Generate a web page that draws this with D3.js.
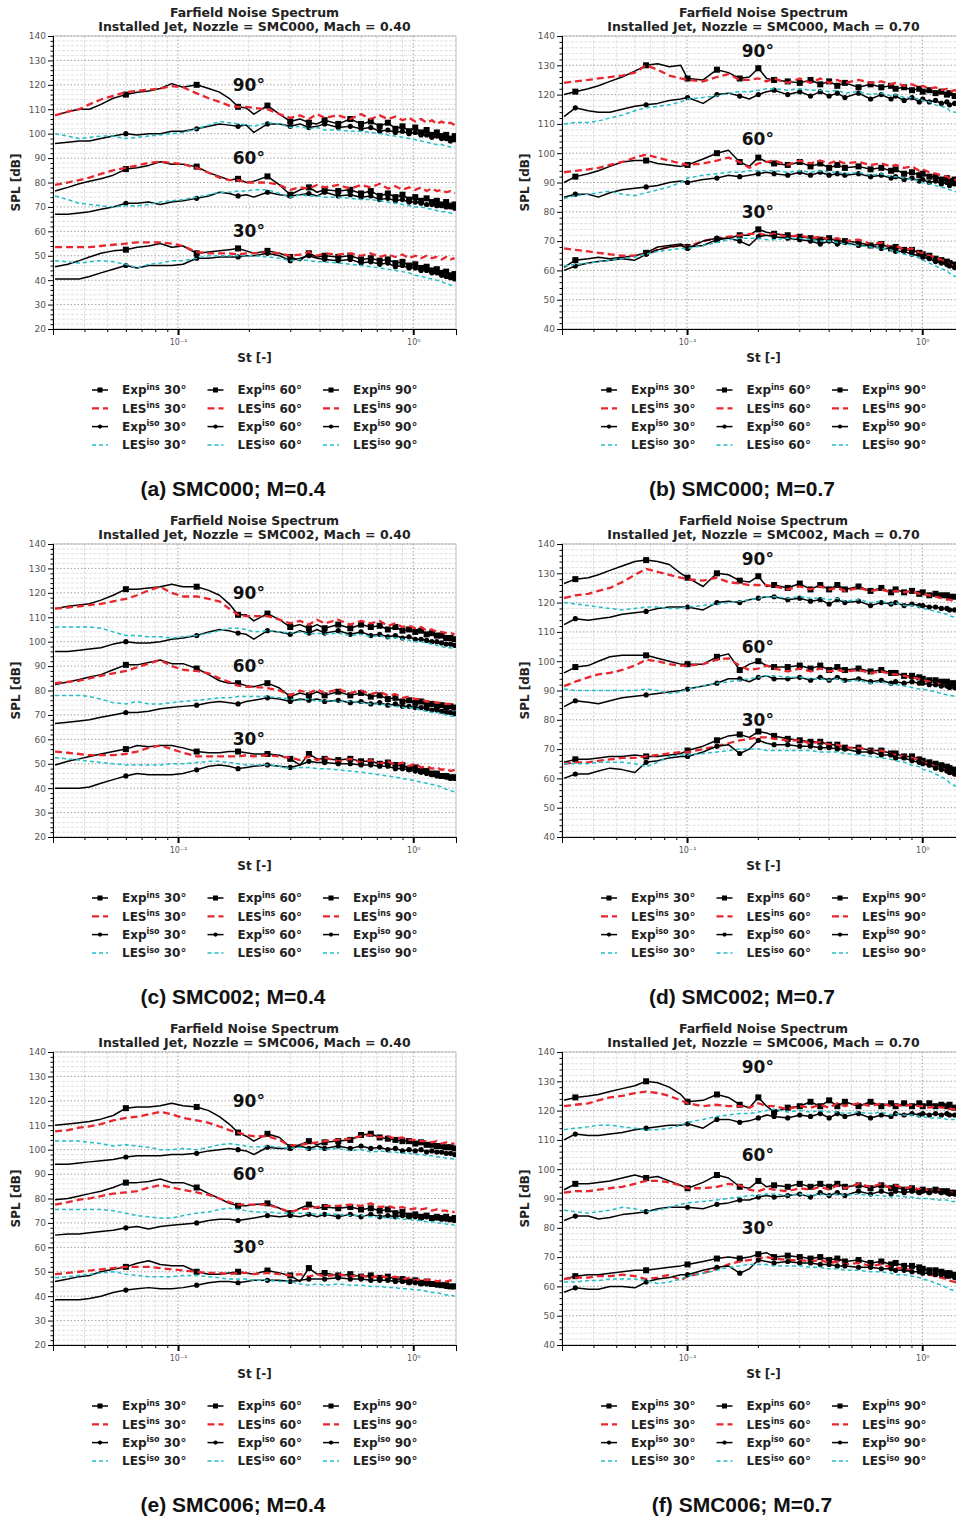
<!DOCTYPE html>
<html>
<head>
<meta charset="utf-8">
<script src="https://cdn.jsdelivr.net/npm/d3@7"></script>
<style>
  body { margin: 0; background: #fff; }
</style>
</head>
<body>
<svg id="fig" width="956" height="1519" font-family="DejaVu Sans, sans-serif"></svg>
<script>
// Strouhal grids: exp markers sit every 0.06 (M=0.4) and every 0.0335 (M=0.7)
const st04 = [0.03,0.034,0.038,0.042,0.047,0.053,0.06,0.067,0.075,0.084,0.094,0.105,0.12,0.135,0.15,0.165,0.18,0.195,0.21,0.24,0.27,0.3,0.33,0.36,0.39,0.42,0.48,0.54,0.6,0.66,0.72,0.78,0.84,0.9,0.96,1.02,1.08,1.14,1.2,1.26,1.32,1.38,1.44,1.5];
const st07 = [0.03,0.0335,0.038,0.042,0.047,0.053,0.06,0.067,0.075,0.084,0.094,0.1005,0.117,0.134,0.15,0.1675,0.184,0.201,0.218,0.2345,0.268,0.3015,0.335,0.3685,0.402,0.4355,0.469,0.536,0.603,0.67,0.737,0.7705,0.8375,0.9045,0.9715,1.005,1.072,1.139,1.206,1.273,1.3065,1.3735,1.4405,1.5075];

const angles = [30, 60, 90];
const xMajor = [0.1, 1];
const xMajorLabels = ['10\u207B\u00B9', '10\u2070'];
const xMinor = [0.04, 0.05, 0.06, 0.07, 0.08, 0.09, 0.2, 0.3, 0.4, 0.5, 0.6, 0.7, 0.8, 0.9];

// (a) SMC000, M=0.4
const aExpIns30 = [45.5,46.5,48,49.5,51,52,52.5,53.5,54,55,53.5,54,51,51.5,52,52.5,53,52,51,52,51,49.5,48,51,49.5,50,49.5,50,48.5,49,48,48.5,47,47.5,46,46.5,45,45.5,44,44.5,43,43.5,42,42.5];
const aLesIns30 = [53.5,53.5,53.5,53.5,54,54.5,55,55.5,55.5,55.5,55,54,51.5,51,51,51,50.5,51,51,51.5,51,50,50.5,51.5,50,51,50.5,51,50,51,49.5,50.5,49.5,50.5,49,50,49,50,49,49.5,48.5,49.5,48.5,49];
const aExpIso30 = [40.5,40.5,40.5,41.5,43,44.5,46,45,46,46,46,46.5,49,49,49.5,49.5,49.5,50,50,51,50,48,49,50,49,48.5,48,48.5,47,47.5,46.5,47,45.5,46,45,45,44,44,43,43,42,41.5,41,40.5];
const aLesIso30 = [48,47.5,47,47.5,48,47.5,46.5,45,46.5,47,48,48,49,50,50,50,50,50,50,49.5,49,48,48.5,48,47.5,47.5,47,46.5,46,45.5,45,44.5,44,43.5,43,42,41.5,41,40.5,40,39.5,38.5,38,37.5];
const aExpIns60 = [76.5,78,79.5,80.5,81.5,83,85.5,86,87,88.5,87.5,87.5,86.5,84,82.5,81,81.5,80,80.5,82.5,79,75,77,78,76,77,76.5,77,75.5,76.5,74.5,75.5,74,75,73,74,72.5,73.5,72,72.5,71,72,70.5,71];
const aLesIns60 = [79,80,81,82,83.5,85,86,87,88,88.5,88,87.5,86,84,82,81,81,80,80,80,79,77,78,77.5,79,78,79,77.5,79,78,79.5,77.5,78.5,77,78,77,78,76.5,77.5,76.5,77,76,76.5,75.5];
const aExpIso60 = [67,67,67.5,68,69,70,71.5,71.5,72,71,72,72.5,73.5,74.5,76,75.5,74.5,75,74,76,75,74.5,75,75.5,74.5,76,74.5,75,74,74.5,73,73.5,72.5,73,72,72,71.5,71,71,70.5,70.5,70,70,69.5];
const aLesIso60 = [74.5,73,71.5,71,70.5,70,70.5,70.5,71,72,72.5,73,74,75,76,76,76.5,76.5,77,77,75.5,74,75,74.5,74.5,74,74,73.5,73,73,72.5,72,71.5,71,70.5,70,70,69.5,69,68.5,68,68,67.5,67];
const aExpIns90 = [107.5,109,110,110,112,114.5,116,117,117.5,118.5,120.5,119,120,118.5,117,114.5,111,110.5,108,111.5,108,105,106,104.5,104,105.5,104,106,104,105,103,104.5,102,103,101,102.5,100.5,101.5,99.5,100.5,99,99.5,98,99];
const aLesIns90 = [107.5,109,110,112,114,115.5,117,117.5,118,118.5,119.5,119,116.5,114.5,113,111.5,111,111,110.5,110,108,106.5,107.5,106,108,106.5,107.5,106,108,106,107.5,106,107,105.5,106.5,105,106,104.5,105.5,104,105,104,104.5,103.5];
const aExpIso90 = [96,96.5,97,97,98,99,100,99.5,100,100,101,101,102,103,104,103.5,103,103.5,100.5,104,104,103,104,102.5,103,104,102.5,103,102,102.5,101,101.5,100.5,101,100,100.5,99.5,99.5,98.5,99,98,98,97,97.5];
const aLesIso90 = [100,99,98,98.5,99,99,98,98.5,99,99.5,100,100.5,102,103.5,105,104.5,104,103.5,103,104.5,104,102.5,103,102,102.5,101.5,101.5,101,101,100.5,100,99.5,99,98.5,98,97.5,97,96.5,96,95.5,95.5,95,94.5,94.5];

// (b) SMC000, M=0.7
const bExpIns30 = [61,63.5,64,64.5,64,64.5,65,66,68,68.5,69,68,68.5,70.5,71,72,72,74,73,72.5,72,71.5,71,70.5,71,70,70,69.5,68.5,69,67.5,68,67,67,66,65.5,65,64,63.5,63,62.5,62,61.5,61];
const bLesIns30 = [67.5,67,66.5,66,65.5,65,65,65.5,67,68,68.5,68,70,71,71.5,72,72.5,72.5,72,72.5,71.5,72,71,71.5,70.5,71,70,70.5,69,69.5,68,68.5,67,67.5,66,66,65,64.5,63.5,63,62,61.5,60.5,60];
const bExpIso30 = [60,61.5,62.5,63,63.5,64,63.5,65.5,67,68,68.5,67.5,70,71,71,70,68.5,71.5,72,71.5,71,70.5,70,69,70,69,69.5,68.5,68.5,67.5,67.5,66.5,66.5,65.5,65,64.5,64,63,62.5,62,61.5,61,60.5,60];
const bLesIso30 = [61.5,62,62.5,63,63.5,64,64.5,65.5,66.5,67,67.5,67.5,68.5,69.5,70.5,71,71,71,70.5,70.5,71,71,70.5,70,70,69.5,69,68.5,68,67.5,67,66.5,65.5,65,64.5,63.5,62.5,61.5,60.5,60,59,58,57.5,57];
const bExpIns60 = [90,92,93,94,95.5,97,97.5,97.5,96.5,96,95.5,96,98,100,101,97,95.5,98.5,97,96.5,96,97,95.5,96.5,95,96,95,95.5,94.5,95,94,94.5,93,93.5,92.5,93,92,92,91,91.5,90.5,91,90,90];
const bLesIns60 = [93.5,94,94.5,95,96,97,98.5,99.5,98.5,97.5,96.5,96,96.5,97.5,98.5,97,95,96.5,97,97.5,96,97.5,96.5,97.5,96.5,97.5,96.5,97,96,96.5,95.5,96,95,95.5,94,94.5,93.5,93,92.5,92,91.5,91,90.5,90];
const bExpIso60 = [85,86,86,85,86.5,87.5,88,88.5,89,90,90.5,90,91,91.5,92.5,92,92.5,93,93.5,93,92.5,93.5,92.5,93.5,92.5,93,92.5,93,92,92.5,91.5,92,91,91.5,90.5,91,90,90.5,89.5,90,89,89.5,88.5,89];
const bLesIso60 = [84.5,85.5,86,86.5,87,86,85.5,86.5,87.5,88.5,90,91.5,92.5,93,93.5,93.5,94,94,94,94,93.5,94,93.5,94,93.5,93.5,93,93.5,92.5,93,92,92,91.5,91,90.5,90,89.5,89,88.5,88,87.5,87,86.5,86];
const bExpIns90 = [120,121,122,123,124.5,126,128,130,130.5,129.5,130,125.5,125,128.5,127.5,125.5,126,129,125.5,125,124.5,124,125,123.5,124.5,123,124,122.5,123.5,122.5,123,122,122.5,121.5,122,121,121.5,120.5,121,120,120.5,119.5,120,119];
const bLesIns90 = [124,124.5,125,125.5,126,126.5,127.5,130,128.5,126.5,125.5,125,124.5,126,127,125,125,125.5,124.5,125.5,124,125.5,124,125.5,124,125,124,125,124,124.5,123.5,124,123,123.5,122.5,123,122,122.5,121.5,122,121,121.5,120.5,121];
const bExpIso90 = [112.5,115.5,114.5,114,114,115,116,116.5,117,118,118.5,119,117,120,120.5,119.5,118.5,120,121,121.5,120,121,119.5,121,119.5,120.5,119,120.5,118.5,120,118.5,119.5,118,119,117.5,118.5,117.5,118,117,117.5,116.5,117,116,116.5];
const bLesIso90 = [110,110.5,110.5,111,112,113,114.5,115.5,116,116.5,117.5,118.5,119,119.5,120.5,121,121,121.5,122,122,121.5,122,121.5,121.5,121,121.5,120.5,121,120,120.5,119.5,120,119,119,118.5,118,117.5,116.5,116,115.5,114.5,114,113.5,113];

// (c) SMC002, M=0.4
const cExpIns30 = [49.5,51,52,53,54,55,56,57.5,57,57.5,57.5,56.5,55,54.5,54.5,55,55,54.5,54,54,53.5,52,49.5,54,52,52,51.5,52,51,51,50,50.5,49.5,49.5,48,48.5,47,47,46,46,45,45,44.5,44.5];
const cLesIns30 = [55,54.5,54,53.5,53.5,53.5,54,55,56.5,57.5,56,54.5,53,53,53,53,53,53.5,53,53.5,53,52.5,51.5,53,51.5,52.5,51,52,50.5,51.5,50,51,49.5,50.5,49,50,48.5,49,48,48.5,47.5,48,47,47.5];
const cExpIso30 = [40,40,40,40.5,42,43.5,45,46,45.5,45.5,45.5,46,47.5,49,49.5,49,48,48.5,49,49.5,49,48.5,49.5,51,50.5,50.5,50,50,49.5,49.5,49,49,48,48,47.5,47,46.5,46,45.5,45,45,44.5,44,44];
const cLesIso30 = [52.5,52,51.5,51,50.5,50,49.5,49.5,49.5,49.5,50,50,50.5,51,51,50.5,50,49.5,49.5,49.5,49,48,48.5,48.5,48,48,47.5,47,46.5,46,45.5,45,44.5,44,43.5,43,42.5,42,41.5,41,40.5,39.5,39,38.5];
const cExpIns60 = [82.5,83.5,84.5,85.5,86.5,88.5,90.5,90.5,91.5,92.5,91,91,89,86.5,84,83,83,82,81.5,83,81,77.5,79,78,79.5,78,79.5,78,79,77.5,78,76.5,77,75.5,76,75,75.5,74,74.5,73.5,74,73,73.5,73];
const cLesIns60 = [83,83.5,84,85,86,87,88,89.5,91,92.5,90,88.5,88,87,85,83.5,82,81.5,81.5,81,80,78,80,79,80.5,79,80.5,79,80,78.5,79.5,78,78.5,77,77.5,76.5,76.5,75.5,75.5,75,75,74.5,74.5,74];
const cExpIso60 = [66.5,67,67.5,68,69,70,71,71,71.5,72.5,73,73.5,74,75,75.5,75,74.5,75.5,76,77,76.5,75.5,76.5,76,76.5,75.5,76,75,75.5,74.5,75,74,74.5,73.5,73.5,73,73,72.5,72,72,71.5,71,71,70.5];
const cLesIso60 = [78,78,78,77.5,76.5,75,74.5,75.5,74.5,74.5,75,75.5,76,76.5,77,77,77.5,77.5,77.5,77.5,77,76.5,76,76.5,75.5,76,75.5,75.5,75,74.5,74.5,74,73.5,73,73,72.5,72,71.5,71,71,70.5,70,69.5,69.5];
const cExpIns90 = [113.5,114.5,115,115.5,117,119,121.5,121.5,122,122.5,123.5,122.5,122.5,121,119,115.5,111,111,108.5,111.5,109,106,107,105.5,107,105.5,107,105.5,107,106,106.5,105,106,104.5,105,104,104.5,103,103.5,102.5,102.5,101.5,101.5,101];
const cLesIns90 = [113.5,114,114.5,115,115.5,116.5,117.5,119,121,122.5,120,118.5,118.5,117.5,116.5,113.5,111,110.5,110.5,110.5,109,107.5,108.5,107,109,107.5,109,107,108.5,107.5,108.5,106.5,107.5,106,106.5,105.5,106,104.5,105,104,104,103.5,103.5,103];
const cExpIso90 = [96,96,96.5,97,97.5,99,100,99.5,99.5,100,101,101.5,102.5,104,105,104.5,103.5,103,101,104.5,104,103,104.5,103.5,105,103.5,104.5,103,104,102.5,103,102,102.5,101.5,102,101,101,100.5,100,100,99.5,99,99,98.5];
const cLesIso90 = [106,106,106,106,105.5,104,102.5,102.5,102,102,101.5,102,102.5,103.5,104.5,105.5,105.5,105,104,104.5,104,103.5,104,103,103.5,103,103.5,102.5,103,102,102.5,101.5,101.5,101,100.5,100,100,99.5,99,98.5,98,97.5,97.5,97];

// (d) SMC002, M=0.7
const dExpIns30 = [65.5,66.5,66.5,67,67.5,67.5,68,67.5,67.5,68,68.5,69.5,71,73,74.5,75,74,76,75.5,74.5,73.5,73,72.5,72.5,71.5,71.5,70.5,70.5,69.5,69.5,68.5,68.5,67.5,67.5,66.5,66,65.5,65,64.5,64,63.5,63,63,62.5];
const dLesIns30 = [65,65.5,65.5,66,66.5,67,67,67.5,68,68.5,69,69,70,71,72,73,73.5,74,74,73.5,73,73,72,72.5,71.5,71.5,70.5,70.5,69.5,69.5,68.5,68,67.5,67,66.5,65.5,65,64,63.5,62.5,62,61,60.5,60];
const dExpIso30 = [60,61.5,61.5,62.5,63.5,63,62,65.5,66,67,67.5,67.5,69,71,71.5,68.5,70,73,72,71.5,71.5,71,71,70.5,70.5,70,70,69,69,68,68,67,67,66,65.5,65,64.5,63.5,63,62.5,62,61.5,61,60.5];
const dLesIso30 = [65,65,65,65.5,65.5,65.5,65,64,65.5,67.5,68,68,68.5,69,69.5,70,70,70,69.5,69.5,69.5,69.5,69.5,69,69,69,68.5,68,67.5,67,66.5,66,65.5,64.5,64,63,62.5,61.5,60.5,59.5,58.5,57.5,57,56.5];
const dExpIns60 = [96,98,98.5,100,101.5,102,102,102,101,100,99,99,99,101.5,102.5,97,99,100,98.5,98,98,98.5,97.5,98.5,97,98,97,97.5,96.5,97,96,96,95,95,94.5,94,93.5,93.5,93,93,92.5,92.5,92,92];
const dLesIns60 = [91.5,93,94.5,95.5,96,97,98.5,100.5,100,99,98.5,98.5,99,100.5,101,98.5,97,97.5,98.5,97.5,96.5,97.5,96.5,97.5,96.5,97,96.5,97,96,96.5,95.5,95.5,95,94.5,94,93.5,93,92.5,92,91.5,91,90.5,90,89.5];
const dExpIso60 = [84.5,86.5,86,85.5,86.5,87.5,88,88.5,89,89.5,90,90.5,91.5,92.5,94,94,93,94.5,95,94,94,94.5,93.5,94.5,93.5,94.5,93.5,94,93,93.5,92.5,93,92.5,93,92.5,92.5,92,92,91.5,91.5,91,91,90.5,90.5];
const dLesIso60 = [90.5,90,90,90,90,90,90,90.5,90,89,89.5,90.5,91.5,92.5,93,93.5,94,94.5,95,95,94.5,94.5,94,94,93.5,94,93,93.5,92.5,93,92,92,91.5,91,90.5,90.5,90,89.5,89,88.5,88.5,88,87.5,87];
const dExpIns90 = [126.5,128,128.5,129.5,131,132.5,134,134.5,134,133,130,128.5,125.5,130,129.5,127.5,127,129,125.5,126,125,126.5,124.5,126,124.5,126,124.5,125.5,124,125,123.5,124.5,123.5,124,123,123.5,122.5,123,122.5,122.5,122,122,121.5,121.5];
const dLesIns90 = [121.5,122.5,123,124,125,127,129.5,131.5,130.5,129.5,128.5,128,127.5,128.5,127,126.5,126,126,126,125.5,124.5,125.5,124.5,125.5,124.5,125,124,125,124,124.5,123.5,124,123.5,124,123,123,122.5,122,121.5,121,121,120.5,120,120];
const dExpIso90 = [112.5,114.5,114,114.5,115,116,116.5,117,118,118.5,118.5,118.5,117.5,120,120.5,120,121,121.5,122,122,121,121.5,120.5,121,119.5,121,120,120.5,119,120,119.5,120,119,119.5,119,119,118.5,118.5,118,118,117.5,117.5,117,117];
const dLesIso90 = [120,119.5,119,118.5,118,117.5,118,118.5,118.5,118,118,118.5,119,119.5,120,120.5,121,121.5,122,122,121.5,122,121.5,121.5,121,121.5,120.5,121,120,120.5,119.5,120,119,119,118.5,118,117.5,117,116.5,116,115.5,115,114.5,114];

// (e) SMC006, M=0.4
const eExpIns30 = [46,47,48,48.5,50,51,52,53.5,54.5,53,52.5,52.5,50,49,49,49.5,50,49.5,49,50.5,49.5,48.5,46,51.5,49,49.5,48.5,49,48,48.5,47.5,48,47,47,46,46.5,45.5,46,45,45,44.5,44.5,44,44];
const eLesIns30 = [49,49.5,50,50.5,51,51.5,52,52,52,51.5,51,50.5,50,49.5,49.5,49,49.5,49.5,49,49.5,49,48.5,49,48,49,48,49,48,48.5,47.5,48.5,47.5,48,47,47.5,46.5,47,46.5,47,46,46.5,46,46.5,46];
const eExpIso30 = [38.5,38.5,38.5,39,40,41.5,42.5,43,43.5,43,43,43.5,44.5,45.5,46,46,45.5,46,46.5,46.5,46.5,46,46.5,47,47,47,47.5,47,47,46.5,46.5,46.5,46,46,45.5,45.5,45,45,45,44.5,44.5,44,44,44];
const eLesIso30 = [47.5,48,48.5,49,49.5,50,49,48.5,48,48,48,48.5,48.5,48,47.5,47,47,47,46.5,46.5,46,46,45,44.5,45,44.5,45,44.5,44.5,44,44,43.5,43.5,43,43,42.5,42.5,42,41.5,41.5,41,40.5,40.5,40];
const eExpIns60 = [79.5,80,81,82,83,84.5,86.5,86.5,87,88,86.5,86.5,84.5,82,80,78,77,77,77.5,78,76,74,76,77.5,76,76.5,76,76.5,75.5,76,75,75.5,74,74.5,73,73.5,72.5,73,72,72.5,72,72.5,71.5,72];
const eLesIns60 = [77.5,78.5,79.5,80,81,82,82.5,83,84.5,85.5,84.5,83.5,82.5,81.5,80,78.5,77.5,77.5,77.5,77.5,76,74.5,75.5,76,76.5,77,77,77.5,77,78,76.5,77,76,76.5,75.5,76,75.5,76,75,75.5,75,75,74.5,74.5];
const eExpIso60 = [65,65.5,65.5,66,66.5,67,68,68.5,67.5,68.5,69,69.5,70,71,71.5,71.5,71,71.5,72,73,72.5,73,72.5,73.5,72.5,73.5,72.5,73.5,72.5,73.5,72.5,73,72.5,73,72.5,72.5,72,72.5,72,72,71.5,71.5,71.5,71];
const eLesIso60 = [75.5,75.5,75.5,75.5,75.5,75,74,73,72.5,72,72,73,74,74.5,75.5,76,75.5,75,74.5,74.5,74,74,74,74,73.5,73.5,73.5,73,73,72.5,72.5,72,72,71.5,71.5,71,71,70.5,70.5,70,70,69.5,69.5,69];
const eExpIns90 = [110,110.5,111,111.5,112.5,114,117,117.5,117.5,118,119,118,117.5,116,113.5,110.5,107,105.5,103.5,106.5,105,101,102,103.5,102,103,103.5,104,106,106.5,105,104.5,104,103.5,103.5,102.5,103,102,102,101.5,101.5,101,101,100.5];
const eLesIns90 = [107.5,108,109,109.5,110.5,112,113,113.5,114.5,115.5,114.5,113,112,111,109.5,108,107,106,105.5,105.5,104,101.5,102,102.5,103,103.5,104,104.5,105.5,106,105,105.5,104.5,105,104,104,103.5,103.5,103,103.5,102.5,103,102.5,102.5];
const eExpIso90 = [94,94,94.5,95,95.5,96,97,97.5,97.5,97.5,98,98,98.5,99.5,100,100.5,100,99.5,98,101,100.5,100.5,101.5,100.5,101.5,100.5,101.5,100.5,101.5,100.5,101,100,100.5,99.5,100,99.5,100,99,99.5,99,99,98.5,98.5,98];
const eLesIso90 = [103.5,103.5,103.5,103,102.5,101.5,102,101.5,101,100,100,100.5,100,101,102,102.5,102,101.5,101,101.5,101,100.5,101,100,100.5,100,100.5,99.5,100,99,99.5,99,99,98.5,98.5,98,98,97.5,97.5,97,97,96.5,96.5,96];

// (f) SMC006, M=0.7
const fExpIns30 = [62.5,63.5,64,64,64.5,65,65.5,65.5,66,66.5,67,67.5,68.5,69.5,70,69.5,70,71,71.5,70,70.5,70,69.5,70,69,69.5,68.5,69,68,68.5,67.5,68,67,67,66.5,66,65.5,65.5,65,64.5,64.5,64,64,63.5];
const fLesIns30 = [62.5,63,63,63.5,63.5,64,63.5,62.5,63,64,62,63.5,64.5,66,67.5,68.5,69,69.5,70,69.5,69,69,68.5,69,68,68.5,67.5,68,67,67.5,66.5,66.5,66,65.5,65,64.5,64,63.5,63,62.5,62,61.5,61,60.5];
const fExpIso30 = [58,59.5,59,59,60,60,59.5,61.5,62.5,63,64,64,65.5,66.5,67,64.5,66,69,68.5,68,68.5,68,68,67.5,67.5,67,67,66.5,66.5,66,66,65.5,65.5,65,65,64.5,64.5,64,64,63.5,63.5,63,63,62.5];
const fLesIso30 = [61.5,61.5,62,62,62.5,62.5,62.5,62,61,61.5,62.5,63.5,64.5,65.5,66.5,67,67.5,67.5,67.5,67,67,67,66.5,66.5,66,66,65.5,65.5,65,65,64.5,64,64,63.5,63,62.5,62,61,60.5,59.5,59,58.5,58,57.5];
const fExpIns60 = [93,95,95,95.5,96,97,98,97,97.5,96,94.5,93.5,95.5,98,97,94,93.5,96,94,94.5,94,95,94,95,94,95,94,94.5,93.5,94.5,93.5,94,93,93.5,92.5,93,92.5,93,92.5,92.5,92,92,92,91.5];
const fLesIns60 = [92,92.5,92.5,93,93.5,94,95,96,96,95.5,94.5,93.5,93.5,94,95,94.5,93,92.5,93.5,93,92.5,93.5,93,94,93,94.5,93.5,95,94,95,93.5,94.5,93.5,94,93,93.5,92.5,93,92.5,92.5,92,92,91.5,91.5];
const fExpIso60 = [82.5,84,84,83,83.5,84.5,85,85.5,86.5,87,87,87,86.5,88,88.5,89.5,89.5,90.5,91,90.5,91,91.5,90.5,92,91,92,91,92.5,91.5,92.5,91.5,92.5,92,92.5,92,92.5,92,92.5,92,92,91.5,91.5,91.5,91.5];
const fLesIso60 = [86,85.5,85,85.5,86,87,86.5,85.5,86,87,88,88.5,89,89.5,90,90.5,91,91,91.5,91.5,91,91.5,91,91.5,91,91.5,91,91.5,91,91,90.5,91,90.5,90.5,90,90,90,89.5,89.5,89.5,89,89,89,88.5];
const fExpIns90 = [123.5,124.5,125,125.5,126.5,127.5,128.5,130,129.5,128,125.5,123,123.5,125.5,124.5,122,121,124.5,121.5,119.5,121,121.5,123,121.5,123.5,121.5,123,121.5,123,121.5,122.5,121.5,122.5,121.5,122.5,121.5,122.5,121.5,122,121.5,122,121,121.5,121];
const fLesIns90 = [121.5,122,122.5,123.5,124.5,125,126,126.5,126,125,123.5,122.5,121.5,122,121.5,121.5,121,122.5,121.5,121.5,120.5,121.5,121,122,121,122.5,121.5,122.5,121.5,122.5,121.5,122,121.5,122,121.5,121.5,121,121.5,121,121,120.5,120.5,120.5,120];
const fExpIso90 = [110,112,111.5,111.5,112,112.5,113.5,114,114.5,115,115,115.5,114,117,117,116,116.5,117.5,118.5,118,117.5,118.5,118,119,117.5,119,118,119,117.5,118.5,118,119,118.5,119,118.5,119,118.5,119,118.5,119,118.5,118.5,118.5,118];
const fLesIso90 = [113.5,114,114.5,115,115,114.5,114,113.5,113.5,114,115,116,117,118,118.5,119,119,119.5,120,120.5,119.5,120,119.5,120,119.5,119.5,119,119.5,119,119.5,118.5,119,118.5,118.5,118,118,117.5,117.5,117.5,117,117,117,116.5,116.5];

// panel table built from the arrays above; series per angle: [Exp ins, LES ins, Exp iso, LES iso]
const panels = [
  {tag: 'a', nozzle: 'SMC000', mach: '0.40', caption: '(a) SMC000; M=0.4', st: st04, step: 0.06, yMin: 20, labelY: [60, 90, 120],
    series: [[aExpIns30, aLesIns30, aExpIso30, aLesIso30], [aExpIns60, aLesIns60, aExpIso60, aLesIso60], [aExpIns90, aLesIns90, aExpIso90, aLesIso90]]},
  {tag: 'b', nozzle: 'SMC000', mach: '0.70', caption: '(b) SMC000; M=0.7', st: st07, step: 0.0335, yMin: 40, labelY: [80, 105, 135],
    series: [[bExpIns30, bLesIns30, bExpIso30, bLesIso30], [bExpIns60, bLesIns60, bExpIso60, bLesIso60], [bExpIns90, bLesIns90, bExpIso90, bLesIso90]]},
  {tag: 'c', nozzle: 'SMC002', mach: '0.40', caption: '(c) SMC002; M=0.4', st: st04, step: 0.06, yMin: 20, labelY: [60, 90, 120],
    series: [[cExpIns30, cLesIns30, cExpIso30, cLesIso30], [cExpIns60, cLesIns60, cExpIso60, cLesIso60], [cExpIns90, cLesIns90, cExpIso90, cLesIso90]]},
  {tag: 'd', nozzle: 'SMC002', mach: '0.70', caption: '(d) SMC002; M=0.7', st: st07, step: 0.0335, yMin: 40, labelY: [80, 105, 135],
    series: [[dExpIns30, dLesIns30, dExpIso30, dLesIso30], [dExpIns60, dLesIns60, dExpIso60, dLesIso60], [dExpIns90, dLesIns90, dExpIso90, dLesIso90]]},
  {tag: 'e', nozzle: 'SMC006', mach: '0.40', caption: '(e) SMC006; M=0.4', st: st04, step: 0.06, yMin: 20, labelY: [60, 90, 120],
    series: [[eExpIns30, eLesIns30, eExpIso30, eLesIso30], [eExpIns60, eLesIns60, eExpIso60, eLesIso60], [eExpIns90, eLesIns90, eExpIso90, eLesIso90]]},
  {tag: 'f', nozzle: 'SMC006', mach: '0.70', caption: '(f) SMC006; M=0.7', st: st07, step: 0.0335, yMin: 40, labelY: [80, 105, 135],
    series: [[fExpIns30, fLesIns30, fExpIso30, fLesIso30], [fExpIns60, fLesIns60, fExpIso60, fLesIso60], [fExpIns90, fLesIns90, fExpIso90, fLesIso90]]}
];

// line styles, same order as the series
const kinds = [
  {name: 'Exp', sup: 'ins', stroke: '#000', width: 1.5, dash: null, marker: 'square'},
  {name: 'LES', sup: 'ins', stroke: '#e8262e', width: 2.3, dash: '7,4', marker: null},
  {name: 'Exp', sup: 'iso', stroke: '#000', width: 1.5, dash: null, marker: 'circle'},
  {name: 'LES', sup: 'iso', stroke: '#22bfc6', width: 1.5, dash: '4,3', marker: null}
];

const svg = d3.select('#fig');
const PW = 403, PH = 293;
const colX = [53, 562];
const rowY = [36, 544, 1052];

/**
 * draws a marker (square or circle) centred on cx, cy
 */
function drawMarker(sel, type, cx, cy, size) {
  if (type === 'square') {
    sel.append('rect').attr('x', cx - size / 2).attr('y', cy - size / 2)
      .attr('width', size).attr('height', size).attr('fill', '#000');
  } else {
    sel.append('circle').attr('cx', cx).attr('cy', cy).attr('r', size / 2 - 0.4).attr('fill', '#000');
  }
}

panels.forEach((p, i) => {
  const ox = colX[i % 2];
  const oy = rowY[Math.floor(i / 2)];
  const g = svg.append('g').attr('transform', `translate(${ox},${oy})`);

  const x = d3.scaleLog().domain([0.0294, 1.52]).range([0, PW]);
  const y = d3.scaleLinear().domain([p.yMin, 140]).range([PH, 0]);

  const clipId = 'clip-' + p.tag;
  g.append('clipPath').attr('id', clipId)
    .append('rect').attr('width', PW).attr('height', PH);

  // grid
  const minorY = d3.range(p.yMin + 2, 140, 2).filter(v => v % 10 !== 0);
  const majorY = d3.range(p.yMin, 140.1, 10);
  const grid = g.append('g');
  grid.selectAll('.gy').data(minorY).join('line')
    .attr('x1', 0).attr('x2', PW).attr('y1', d => y(d)).attr('y2', d => y(d))
    .attr('stroke', '#d4d4d4').attr('stroke-width', 0.7).attr('stroke-dasharray', '3,1.5');
  grid.selectAll('.gx').data(xMinor).join('line')
    .attr('y1', 0).attr('y2', PH).attr('x1', d => x(d)).attr('x2', d => x(d))
    .attr('stroke', '#d4d4d4').attr('stroke-width', 0.8).attr('stroke-dasharray', '3,1.5');
  grid.selectAll('.gY').data(majorY).join('line')
    .attr('x1', 0).attr('x2', PW).attr('y1', d => y(d)).attr('y2', d => y(d))
    .attr('stroke', '#8a8a8a').attr('stroke-width', 0.8).attr('stroke-dasharray', '1.5,2');
  grid.selectAll('.gX').data(xMajor).join('line')
    .attr('y1', 0).attr('y2', PH).attr('x1', d => x(d)).attr('x2', d => x(d))
    .attr('stroke', '#8a8a8a').attr('stroke-width', 0.8).attr('stroke-dasharray', '1.5,2');

  // frame
  g.append('rect').attr('width', PW).attr('height', PH)
    .attr('fill', 'none').attr('stroke', '#b0b0b0').attr('stroke-width', 0.8);

  // series
  const plot = g.append('g').attr('clip-path', `url(#${clipId})`);
  const line = d3.line().x((d, k) => x(p.st[k])).y(d => y(d));
  p.series.forEach(group => {
    group.forEach((vals, k) => {
      const kind = kinds[k];
      plot.append('path').datum(vals)
        .attr('d', line)
        .attr('fill', 'none')
        .attr('stroke', kind.stroke)
        .attr('stroke-width', kind.width)
        .attr('stroke-dasharray', kind.dash)
        .attr('stroke-linejoin', 'round');
      if (kind.marker) {
        vals.forEach((v, n) => {
          const r = p.st[n] / p.step;
          if (Math.abs(r - Math.round(r)) < 1e-6) {
            drawMarker(plot, kind.marker, x(p.st[n]), y(v), 6);
          }
        });
      }
    });
  });

  // angle labels
  g.selectAll('.ang').data(angles).join('text')
    .attr('x', x(0.2)).attr('y', (d, k) => y(p.labelY[k]))
    .attr('dy', '0.36em').attr('text-anchor', 'middle')
    .attr('font-size', 17).attr('font-weight', 'bold').attr('fill', '#111')
    .text(d => d + '\u00B0');

  // y axis
  const yAxis = g.append('g').call(d3.axisLeft(y).tickValues(majorY).tickSize(5).tickPadding(2));
  const yMinorAxis = g.append('g').call(d3.axisLeft(y).tickValues(minorY).tickSize(2.5).tickFormat(''));
  [yAxis, yMinorAxis].forEach(a => {
    a.select('.domain').attr('stroke', '#000').attr('stroke-width', 1);
    a.selectAll('.tick line').attr('stroke', '#000').attr('stroke-width', 1);
  });
  yAxis.selectAll('.tick text').attr('font-family', 'DejaVu Sans').attr('font-size', 9).attr('fill', '#555');

  // x axis
  const xAxis = g.append('g').attr('transform', `translate(0,${PH})`)
    .call(d3.axisBottom(x).tickValues(xMajor).tickSize(6).tickPadding(4).tickFormat((d, k) => xMajorLabels[k]));
  const xMinorAxis = g.append('g').attr('transform', `translate(0,${PH})`)
    .call(d3.axisBottom(x).tickValues(xMinor).tickSize(3).tickFormat(''));
  [xAxis, xMinorAxis].forEach(a => {
    a.select('.domain').attr('stroke', '#000').attr('stroke-width', 1);
    a.selectAll('.tick line').attr('stroke', '#000').attr('stroke-width', 1);
  });
  xAxis.selectAll('.tick line').attr('stroke-width', 2);
  xAxis.selectAll('.tick text').attr('font-family', 'DejaVu Sans').attr('font-size', 8).attr('fill', '#555');

  // titles
  g.append('text').attr('x', PW / 2).attr('y', -19.5).attr('text-anchor', 'middle')
    .attr('font-size', 12.5).attr('font-weight', 'bold').attr('fill', '#222')
    .text('Farfield Noise Spectrum');
  g.append('text').attr('x', PW / 2).attr('y', -5.5).attr('text-anchor', 'middle')
    .attr('font-size', 12.5).attr('font-weight', 'bold').attr('fill', '#222')
    .text(`Installed Jet,  Nozzle = ${p.nozzle},  Mach = ${p.mach}`);
  g.append('text').attr('transform', `translate(-37,${PH / 2}) rotate(-90)`)
    .attr('text-anchor', 'middle').attr('dy', '0.35em')
    .attr('font-size', 12).attr('font-weight', 'bold').attr('fill', '#222')
    .text('SPL [dB]');
  g.append('text').attr('x', PW / 2).attr('y', 326).attr('text-anchor', 'middle')
    .attr('font-size', 12).attr('font-weight', 'bold').attr('fill', '#222')
    .text('St [-]');

  // legend: columns = angles, rows = kinds
  const leg = g.append('g').attr('transform', 'translate(39,354)');
  angles.forEach((ang, a) => {
    kinds.forEach((kind, k) => {
      const item = leg.append('g').attr('transform', `translate(${a * 115.5},${k * 18.3})`);
      item.append('line').attr('x1', 0).attr('x2', 16).attr('y1', 0).attr('y2', 0)
        .attr('stroke', kind.stroke).attr('stroke-width', kind.width)
        .attr('stroke-dasharray', kind.dash);
      if (kind.marker) drawMarker(item, kind.marker, 8, 0, 5);
      const t = item.append('text').attr('x', 30).attr('y', 4.3)
        .attr('font-size', 12).attr('font-weight', 'bold').attr('fill', '#222');
      t.append('tspan').text(kind.name);
      t.append('tspan').attr('dy', -4.5).attr('font-size', 8).text(kind.sup);
      t.append('tspan').attr('dy', 4.5).text(' ' + ang + '\u00B0');
    });
  });

  // caption
  g.append('text').attr('x', 180).attr('y', 460).attr('text-anchor', 'middle')
    .attr('font-family', 'Liberation Sans, Arial, sans-serif')
    .attr('font-size', 21).attr('font-weight', 'bold').attr('fill', '#111')
    .text(p.caption);
});
</script>
</body>
</html>
